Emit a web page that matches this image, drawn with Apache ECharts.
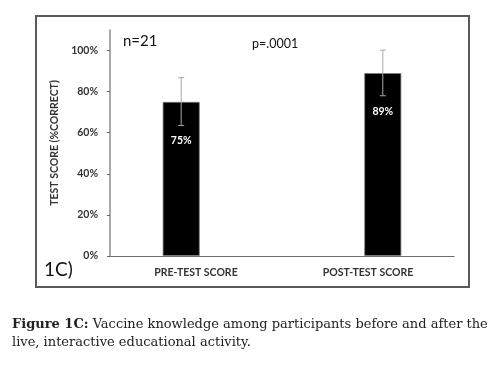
<!DOCTYPE html>
<html lang="en">
<head>
    <meta charset="UTF-8">
    <title>Figure 1C</title>
    <script src="https://cdn.jsdelivr.net/npm/echarts@6/dist/echarts.min.js"></script>
    <style>
        html, body { margin: 0; padding: 0; background: #fff; }
        #chart { width: 503px; height: 365px; }
    </style>
</head>
<body>
<div id="chart"></div>
<script type="text/javascript">
    // data
    var categories = ['PRE-TEST SCORE', 'POST-TEST SCORE'];
    var seriesNames = ['Pre-test', 'Post-test'];
    var scores = [75, 89];
    var errLow = [63.5, 78];
    var errHigh = [86.8, 100.2];
    var yTicks = [0, 20, 40, 60, 80, 100];

    var BAR_W = 37;
    var BAR_GAP = -0.2;

    // one series per bar, like the excel clustered layout
    var barSeries = seriesNames.map(function (name, i) {
        var d = categories.map(function (c, j) { return j === i ? scores[j] : '-'; });
        return {
            name: name,
            type: 'bar',
            data: d,
            barWidth: BAR_W,
            barGap: (BAR_GAP * 100) + '%',
            itemStyle: { color: '#000', borderColor: '#777', borderWidth: 0.8 },
            label: {
                show: true,
                position: 'insideTop',
                distance: 33,
                formatter: '{c}%',
                color: '#fff',
                fontFamily: 'Lato',
                fontWeight: 'bold',
                fontSize: 10.5
            },
            z: 2
        };
    });

    var errData = categories.map(function (c, i) { return [i, errLow[i], errHigh[i]]; });

    var myChart = echarts.init(document.getElementById('chart'));
    var option = {
        animation: false,
        grid: { left: 110, right: 49, top: 30, bottom: 109 },
        xAxis: {
            type: 'category',
            data: categories,
            axisLine: { lineStyle: { color: '#6e6e6e', width: 1.2 } },
            axisTick: { show: false },
            axisLabel: {
                margin: 11,
                color: '#333',
                fontFamily: 'Lato',
                fontWeight: 'bold',
                fontSize: 10.5
            }
        },
        yAxis: {
            type: 'value',
            min: 0,
            max: 110,
            interval: 20,
            name: 'TEST SCORE (%CORRECT)',
            nameLocation: 'middle',
            nameGap: 49,
            nameTextStyle: { color: '#333', fontFamily: 'Lato', fontWeight: 'bold', fontSize: 10.5 },
            splitLine: { show: false },
            axisLine: { show: true, lineStyle: { color: '#8c8c8c', width: 1.5 } },
            axisTick: {
                show: true, inside: false, length: 3,
                customValues: yTicks,
                lineStyle: { color: '#666' }
            },
            axisLabel: {
                margin: 12,
                customValues: yTicks,
                formatter: function (v) { return v > 100 ? '' : v + '%'; },
                color: '#333',
                fontFamily: 'Lato',
                fontWeight: 'bold',
                fontSize: 10.5
            }
        },
        series: barSeries.concat([{
            type: 'custom',
            name: 'error',
            data: errData,
            z: 5,
            renderItem: function (params, api) {
                var i = api.value(0);
                var lo = api.coord([i, api.value(1)]);
                var hi = api.coord([i, api.value(2)]);
                // shift to the bar of series i
                var off = (i - 0.5) * BAR_W * (1 + BAR_GAP);
                var x = lo[0] + off;
                var cap = 3;
                var st = { stroke: '#a8a8a8', lineWidth: 1 };
                return {
                    type: 'group',
                    children: [
                        { type: 'line', shape: { x1: x, y1: lo[1], x2: x, y2: hi[1] }, style: st },
                        { type: 'line', shape: { x1: x - cap, y1: hi[1], x2: x + cap, y2: hi[1] }, style: st },
                        { type: 'line', shape: { x1: x - cap, y1: lo[1], x2: x + cap, y2: lo[1] }, style: st }
                    ]
                };
            }
        }]),
        graphic: [
            {
                type: 'rect',
                shape: { x: 36, y: 16, width: 433, height: 271 },
                style: { fill: 'none', stroke: '#5a5a5a', lineWidth: 2 },
                z: 0
            },
            {
                type: 'text', left: 123, top: 34,
                style: { text: 'n=21', font: '15px Lato', fill: '#111' }
            },
            {
                type: 'text', left: 252, top: 37,
                style: { text: 'p=.0001', font: '12.5px Lato', fill: '#111' }
            },
            {
                type: 'text', left: 44, top: 260,
                style: { text: '1C)', font: '19px Lato', fill: '#111' }
            },
            {
                type: 'text', left: 12, top: 316,
                style: {
                    text: '{b|Figure 1C:} Vaccine knowledge among participants before and after the\nlive, interactive educational activity.',
                    font: '13px "DejaVu Serif"',
                    fill: '#222',
                    lineHeight: 18,
                    rich: {
                        b: { font: 'bold 13px "DejaVu Serif"', fill: '#222' }
                    }
                }
            }
        ]
    };
    myChart.setOption(option);
</script>
</body>
</html>
